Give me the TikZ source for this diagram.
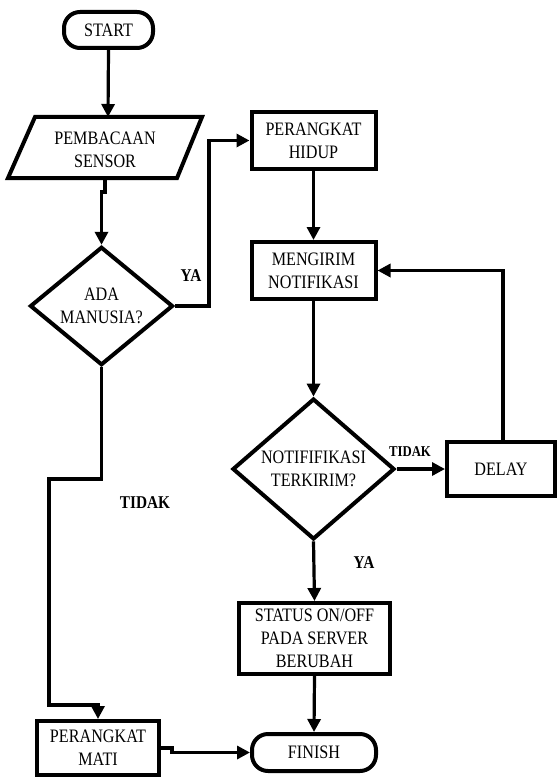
\documentclass[tikz,border=0pt]{standalone}
\usepackage{fontspec}
\setmainfont{Liberation Serif}[FakeStretch=0.85]
\usetikzlibrary{shapes.geometric,arrows.meta}
\tikzset{
  txt/.style={font=\fontsize{19}{23}\selectfont, align=center, inner sep=0pt},
  boxnode/.style={txt, draw, line width=4pt, rectangle},
  termnode/.style={txt, draw, line width=4pt, rectangle, rounded corners=16pt},
  decnode/.style={txt, draw, line width=4pt, diamond},
  arr/.style={line width=3.2pt, -{Triangle[length=13pt,width=13pt]}},
  conn/.style={line width=3.2pt},
  lbl/.style={font=\bfseries\fontsize{18}{20}\selectfont, inner sep=0pt},
  lblsmall/.style={font=\bfseries\fontsize{15}{17}\selectfont, inner sep=0pt}
}
\begin{document}
\begin{tikzpicture}[x=1pt,y=-1pt]
\useasboundingbox (0,0) rectangle (558,778);
% nodes
\node[termnode, minimum width=89pt, minimum height=36pt] (start) at (108.5,30) {START};
\draw[line width=4pt, line join=miter] (35,117) -- (202,117) -- (177,178) -- (8,178) -- cycle;
\node[txt] (sensor) at (105,150) {PEMBACAAN\\SENSOR};
\coordinate (ptop) at (108,117);
\coordinate (pbot) at (105,178);
\node[decnode, minimum width=143pt, minimum height=108pt] (d1) at (101.5,306) {ADA\\MANUSIA?};
\node[boxnode, minimum width=124pt, minimum height=57pt] (hidup) at (313.5,140.5) {PERANGKAT\\HIDUP};
\node[boxnode, minimum width=124pt, minimum height=57pt] (kirim) at (313.5,270.5) {MENGIRIM\\NOTIFIKASI};
\node[decnode, minimum width=162pt, minimum height=128pt] (d2) at (313.5,469) {NOTIFIFIKASI\\TERKIRIM?};
\node[boxnode, minimum width=108pt, minimum height=54pt] (delay) at (501,469) {DELAY};
\node[boxnode, minimum width=151pt, minimum height=71pt] (status) at (314.5,638.5) {STATUS ON/OFF\\PADA SERVER\\BERUBAH};
\node[termnode, minimum width=124pt, minimum height=37pt] (finish) at (314,752.5) {FINISH};
\node[boxnode, minimum width=122pt, minimum height=54pt] (mati) at (98,748) {PERANGKAT\\MATI};
\coordinate (c1) at (49,479);
\coordinate (c2) at (49,705);
% labels
\node[lbl] (ya1) at (191,276) {YA};
\node[lbl] (tidak1) at (145,503) {TIDAK};
\node[lblsmall] (tidak2) at (410,452) {TIDAK};
\node[lbl] (ya2) at (364,563) {YA};
% connectors
\draw[arr] (start.south) -- (ptop);
\draw[arr] (pbot) -- ++(0,14) -- ++(-3.5,0) -- (d1.north);
\draw[arr] (d1.east) -- ++(34,0) |- (hidup.west);
\draw[arr] (hidup.south) -- (kirim.north);
\draw[arr] (kirim.south) -- (d2.north);
\draw[arr] (d2.east) -- (delay.west);
\draw[arr] ([xshift=2pt]delay.north) |- (kirim.east);
\draw[arr] (d2.south) -- (status.north);
\draw[arr] (status.south) -- (finish.north);
\draw[arr] (d1.south) |- (c1) -- (c2) -| (mati.north);
\draw[arr] (mati.east) -- ++(11,0) |- (finish.west);
\end{tikzpicture}
\end{document}
